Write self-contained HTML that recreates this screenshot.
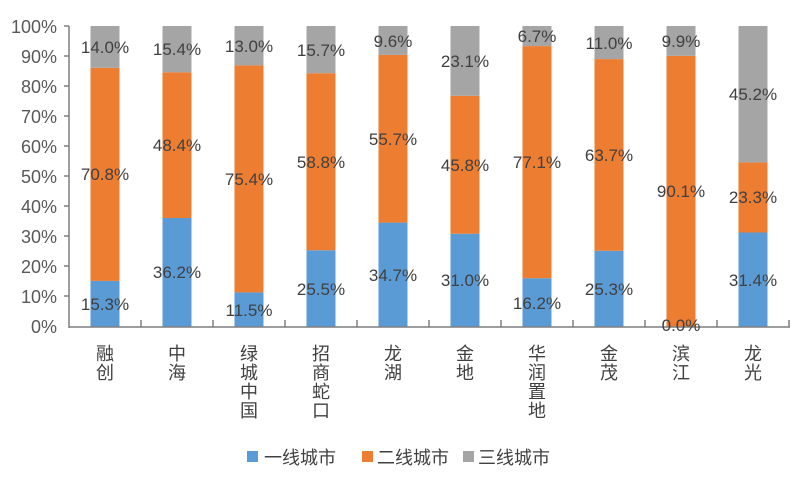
<!DOCTYPE html><html><head><meta charset="utf-8"><style>body{margin:0;background:#fff}</style></head><body>
<svg width="800" height="477" xmlns="http://www.w3.org/2000/svg" font-family="Liberation Sans, Noto Sans CJK SC, sans-serif">
<rect width="800" height="477" fill="#fff"/>
<g font-size="18" fill="#595959" text-anchor="end">
<text x="57" y="333">0%</text><text x="57" y="303">10%</text><text x="57" y="273">20%</text><text x="57" y="243">30%</text><text x="57" y="213">40%</text><text x="57" y="183">50%</text><text x="57" y="153">60%</text><text x="57" y="123">70%</text><text x="57" y="93">80%</text><text x="57" y="63">90%</text><text x="57" y="33">100%</text>
</g>
<g>
<rect x="90.5" y="280.9" width="29" height="46.1" fill="#5b9bd5"/><rect x="90.5" y="67.8" width="29" height="213.1" fill="#ed7d31"/><rect x="90.5" y="26" width="29" height="41.8" fill="#a5a5a5"/>
<rect x="162.5" y="218" width="29" height="109" fill="#5b9bd5"/><rect x="162.5" y="72.3" width="29" height="145.7" fill="#ed7d31"/><rect x="162.5" y="26" width="29" height="46.3" fill="#a5a5a5"/>
<rect x="234.5" y="292.4" width="29" height="34.6" fill="#5b9bd5"/><rect x="234.5" y="65.4" width="29" height="227" fill="#ed7d31"/><rect x="234.5" y="26" width="29" height="39.4" fill="#a5a5a5"/>
<rect x="306.5" y="250.2" width="29" height="76.8" fill="#5b9bd5"/><rect x="306.5" y="73.2" width="29" height="177" fill="#ed7d31"/><rect x="306.5" y="26" width="29" height="47.2" fill="#a5a5a5"/>
<rect x="378.5" y="222.6" width="29" height="104.4" fill="#5b9bd5"/><rect x="378.5" y="54.9" width="29" height="167.7" fill="#ed7d31"/><rect x="378.5" y="26" width="29" height="28.9" fill="#a5a5a5"/>
<rect x="450.5" y="233.7" width="29" height="93.3" fill="#5b9bd5"/><rect x="450.5" y="95.8" width="29" height="137.9" fill="#ed7d31"/><rect x="450.5" y="26" width="29" height="69.8" fill="#a5a5a5"/>
<rect x="522.5" y="278.2" width="29" height="48.8" fill="#5b9bd5"/><rect x="522.5" y="46.1" width="29" height="232.1" fill="#ed7d31"/><rect x="522.5" y="26" width="29" height="20.1" fill="#a5a5a5"/>
<rect x="594.5" y="250.8" width="29" height="76.2" fill="#5b9bd5"/><rect x="594.5" y="59.1" width="29" height="191.7" fill="#ed7d31"/><rect x="594.5" y="26" width="29" height="33.1" fill="#a5a5a5"/>
<rect x="666.5" y="55.8" width="29" height="271.2" fill="#ed7d31"/><rect x="666.5" y="26" width="29" height="29.8" fill="#a5a5a5"/>
<rect x="738.5" y="232.5" width="29" height="94.5" fill="#5b9bd5"/><rect x="738.5" y="162.4" width="29" height="70.1" fill="#ed7d31"/><rect x="738.5" y="26" width="29" height="136.4" fill="#a5a5a5"/>
</g>
<line x1="69" y1="26" x2="69" y2="328" stroke="#7f7f7f" stroke-width="1.5"/>
<line x1="69" y1="327" x2="790" y2="327" stroke="#7f7f7f" stroke-width="1.5"/>
<g stroke="#7f7f7f" stroke-width="1.5">
<line x1="64" y1="26" x2="69" y2="26"/><line x1="64" y1="56" x2="69" y2="56"/><line x1="64" y1="86" x2="69" y2="86"/><line x1="64" y1="116" x2="69" y2="116"/><line x1="64" y1="146" x2="69" y2="146"/><line x1="64" y1="176" x2="69" y2="176"/><line x1="64" y1="206" x2="69" y2="206"/><line x1="64" y1="236" x2="69" y2="236"/><line x1="64" y1="266" x2="69" y2="266"/><line x1="64" y1="296" x2="69" y2="296"/>
<line x1="141" y1="320" x2="141" y2="327"/><line x1="213" y1="320" x2="213" y2="327"/><line x1="285" y1="320" x2="285" y2="327"/><line x1="357" y1="320" x2="357" y2="327"/><line x1="429" y1="320" x2="429" y2="327"/><line x1="501" y1="320" x2="501" y2="327"/><line x1="573" y1="320" x2="573" y2="327"/><line x1="645" y1="320" x2="645" y2="327"/><line x1="717" y1="320" x2="717" y2="327"/><line x1="789" y1="320" x2="789" y2="327"/>
</g>
<g font-size="17" fill="#404040" text-anchor="middle">
<text x="105" y="310">15.3%</text><text x="105" y="180">70.8%</text><text x="105" y="53">14.0%</text>
<text x="177" y="278">36.2%</text><text x="177" y="151">48.4%</text><text x="177" y="55">15.4%</text>
<text x="249" y="316">11.5%</text><text x="249" y="185">75.4%</text><text x="249" y="52">13.0%</text>
<text x="321" y="295">25.5%</text><text x="321" y="168">58.8%</text><text x="321" y="56">15.7%</text>
<text x="393" y="281">34.7%</text><text x="393" y="145">55.7%</text><text x="393" y="47">9.6%</text>
<text x="465" y="286">31.0%</text><text x="465" y="171">45.8%</text><text x="465" y="67">23.1%</text>
<text x="537" y="309">16.2%</text><text x="537" y="168">77.1%</text><text x="537" y="42">6.7%</text>
<text x="609" y="295">25.3%</text><text x="609" y="161">63.7%</text><text x="609" y="49">11.0%</text>
<text x="681" y="331">0.0%</text><text x="681" y="197">90.1%</text><text x="681" y="47">9.9%</text>
<text x="753" y="286">31.4%</text><text x="753" y="203">23.3%</text><text x="753" y="100">45.2%</text>
</g>
<g font-size="18" fill="#404040" text-anchor="middle">
<text x="105" y="360">融</text><text x="105" y="379">创</text>
<text x="177" y="360">中</text><text x="177" y="379">海</text>
<text x="249" y="360">绿</text><text x="249" y="379">城</text><text x="249" y="398">中</text><text x="249" y="417">国</text>
<text x="321" y="360">招</text><text x="321" y="379">商</text><text x="321" y="398">蛇</text><text x="321" y="417">口</text>
<text x="393" y="360">龙</text><text x="393" y="379">湖</text>
<text x="465" y="360">金</text><text x="465" y="379">地</text>
<text x="537" y="360">华</text><text x="537" y="379">润</text><text x="537" y="398">置</text><text x="537" y="417">地</text>
<text x="609" y="360">金</text><text x="609" y="379">茂</text>
<text x="681" y="360">滨</text><text x="681" y="379">江</text>
<text x="753" y="360">龙</text><text x="753" y="379">光</text>
</g>
<g font-size="18" fill="#404040">
<rect x="247" y="451" width="11" height="11" fill="#5b9bd5"/><text x="264" y="464">一线城市</text>
<rect x="362" y="451" width="11" height="11" fill="#ed7d31"/><text x="377" y="464">二线城市</text>
<rect x="463" y="451" width="11" height="11" fill="#a5a5a5"/><text x="478" y="464">三线城市</text>
</g>
</svg>
</body></html>
